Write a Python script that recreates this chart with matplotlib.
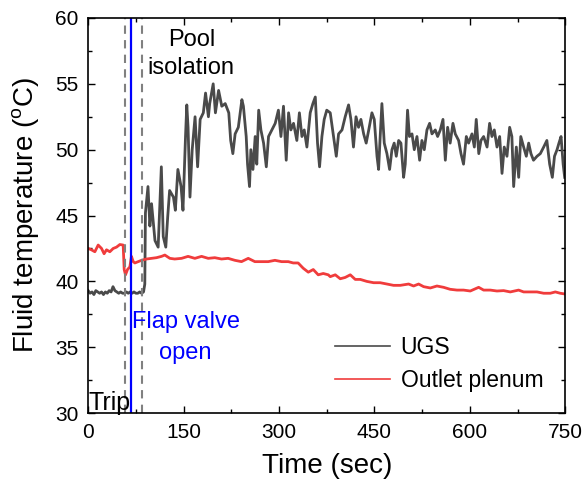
import matplotlib
matplotlib.use("Agg")
import matplotlib.pyplot as plt
from matplotlib.ticker import MultipleLocator

plt.rcParams['font.family'] = ['Liberation Sans', 'DejaVu Sans']
plt.rcParams['mathtext.fontset'] = 'custom'
plt.rcParams['mathtext.rm'] = 'Liberation Sans'

# UGS temperature
ugs_t = [0, 3, 6, 9, 12, 15, 18, 21, 24, 27, 30, 33, 36, 39, 42, 45, 48, 51, 54, 57,
         60, 63, 66, 69, 72, 75, 78, 81, 84, 87, 89, 90, 94, 97, 99.6, 105, 110, 115,
         118, 122, 125, 128, 134, 137, 141, 146, 149, 153, 155, 157, 160, 163.5, 168,
         172, 176, 181, 184.5, 189, 191, 196.5, 200, 205, 210, 215.4, 221, 224, 227.4,
         231, 236, 241.6, 244, 248.4, 250.5, 253.6, 255.7, 259, 262.5, 265, 268, 271.5,
         275.7, 280, 283.5, 288.8, 294, 299, 303, 307, 311.3, 315, 318.6, 322.8, 328,
         332, 336, 339.6, 343.8, 349, 353.2, 357, 360.5, 363.7, 367.4, 371, 375, 380.5,
         385.7, 390, 393.6, 399, 404, 409.3, 413, 417, 421, 425, 428.7, 433, 437, 441,
         446, 449.7, 454, 456.5, 459, 461.7, 465.4, 469.6, 473.8, 477.5, 481, 484.3,
         488, 491.6, 495.8, 498.4, 502, 505, 509, 512.6, 516.8, 521, 524.6, 528.3,
         532.5, 536.7, 540.4, 545.6, 549.3, 553.5, 557.7, 561.4, 565, 569, 573.4, 577,
         582.3, 586, 590, 594.4, 598, 603.3, 607, 610, 614, 617.4, 621.6, 627, 631,
         634.7, 638.4, 642.6, 646.8, 650.5, 654, 658.3, 662.5, 666, 668.8, 673, 676.7,
         680, 684.5, 688.7, 692.4, 696, 700, 705.5, 710.7, 716, 721, 725.4, 729.6, 733,
         737, 740, 743.3, 746.6, 749]
ugs_T = [39.3, 39.1, 39.2, 39.0, 39.3, 39.2, 39.1, 39.2, 39.0, 39.2, 39.1, 39.3, 39.2,
         39.6, 39.3, 39.2, 39.1, 39.2, 39.1, 39.1, 39.2, 39.1, 39.2, 39.1, 39.2, 39.1,
         39.1, 39.2, 39.1, 39.2, 39.8, 45.2, 47.2, 44.2, 45.9, 43.1, 42.6, 48.7, 43.4,
         42.6, 44.9, 46.9, 46.4, 45.4, 48.5, 47.2, 45.4, 51.0, 53.4, 51.7, 46.4, 50.0,
         52.5, 48.7, 52.3, 52.8, 54.3, 52.5, 53.5, 55.0, 52.8, 54.5, 53.3, 53.5, 52.8,
         50.7, 49.7, 51.2, 51.7, 53.8, 53.3, 51.0, 48.9, 47.2, 50.0, 48.5, 51.0, 48.9,
         53.0, 51.5, 50.5, 48.7, 51.0, 51.5, 52.0, 53.0, 51.0, 53.3, 49.2, 52.8, 51.5,
         52.0, 50.7, 52.8, 51.0, 51.5, 50.2, 52.8, 53.5, 54.0, 50.5, 48.7, 51.0, 52.3,
         53.0, 52.8, 51.0, 49.5, 51.2, 51.5, 52.5, 53.4, 52.3, 50.2, 52.5, 51.7, 52.3,
         51.2, 50.5, 51.5, 52.8, 52.3, 49.5, 48.5, 51.0, 53.5, 50.5, 49.7, 48.5, 50.0,
         50.5, 49.5, 50.7, 50.5, 47.9, 48.9, 53.0, 51.0, 51.2, 50.0, 51.0, 49.2, 50.7,
         50.0, 51.5, 52.0, 51.2, 51.5, 51.0, 51.5, 52.3, 49.2, 51.7, 50.5, 52.0, 51.2,
         50.7, 49.7, 48.9, 51.0, 50.5, 51.2, 50.2, 52.3, 49.7, 50.7, 51.0, 50.2, 52.0,
         51.0, 51.5, 50.2, 51.0, 48.2, 50.2, 49.5, 51.7, 51.0, 47.2, 50.2, 47.9, 51.0,
         50.2, 49.5, 50.5, 49.7, 49.2, 49.5, 49.7, 50.2, 50.7, 48.9, 47.9, 49.5, 50.0,
         50.5, 51.0, 48.9, 47.9]

# Outlet plenum temperature
out_t = [0, 5, 10.5, 15.7, 21, 25, 28.8, 34, 39.3, 44.5, 49.8, 55, 56.6, 58.7, 61.8,
         65.5, 68, 70.8, 73.4, 78.6, 83.9, 91.7, 99.6, 107.4, 115.3, 120.5, 128.4, 136,
         146.8, 157, 167.7, 178.2, 188.7, 199, 209.6, 220, 230.6, 241, 251.6, 262, 272.5,
         283, 293.5, 304, 314.5, 322.3, 330, 338, 346, 353.8, 361.6, 369.5, 377.4, 380.5,
         388.4, 396.2, 404, 412, 419.8, 427.7, 438, 448.7, 459, 469.6, 480, 490.6, 503.7,
         511.5, 519.4, 527.3, 537.8, 548.2, 558.7, 569, 579.7, 590, 600.6, 613.8, 621.6,
         632, 642.6, 653, 663.5, 676.6, 684.5, 695, 705.5, 716, 726.4, 734.3, 742, 750]
out_T = [42.5, 42.4, 42.25, 42.76, 42.5, 42.1, 42.4, 42.25, 42.5, 42.6, 42.8, 42.76,
         40.9, 40.5, 40.9, 41.1, 41.9, 41.5, 41.4, 41.5, 41.6, 41.7, 41.75, 41.8, 41.9,
         42.0, 41.75, 41.7, 41.75, 41.9, 41.75, 41.9, 41.75, 41.8, 41.7, 41.75, 41.6, 41.5,
         41.75, 41.5, 41.5, 41.5, 41.6, 41.5, 41.5, 41.4, 41.4, 41.0, 40.7, 40.9, 40.5,
         40.6, 40.5, 40.36, 40.5, 40.2, 40.3, 40.5, 40.15, 40.15, 40.0, 39.9, 39.9, 39.8,
         39.7, 39.7, 39.8, 39.65, 39.8, 39.6, 39.5, 39.65, 39.55, 39.4, 39.34, 39.34,
         39.27, 39.55, 39.34, 39.34, 39.27, 39.3, 39.2, 39.34, 39.2, 39.2, 39.2, 39.1,
         39.1, 39.2, 39.1, 39.04]

# event times (sec)
trip_time = 58
flap_time = 67
pool_time = 84

fig = plt.figure(figsize=(5.84, 4.86), dpi=100)
ax = fig.add_axes([0.151, 0.150, 0.817, 0.813])

ax.plot(ugs_t, ugs_T, color='#4a4a4a', lw=2.0, label='UGS')
ax.plot(out_t, out_T, color='#f03c3c', lw=2.0, label='Outlet plenum')
ax.axvline(trip_time, color='#808080', lw=1.5, ls=(0, (4, 3)))
ax.axvline(pool_time, color='#808080', lw=1.5, ls=(0, (4, 3)))
ax.axvline(flap_time, color='#0000ff', lw=1.6)

ax.text(163, 58.3, 'Pool', fontsize=17, ha='center', va='center')
ax.text(162, 56.2, 'isolation', fontsize=17, ha='center', va='center')
ax.text(153, 36.9, 'Flap valve', fontsize=17, color='#0000ff', ha='center', va='center')
ax.text(153, 34.6, 'open', fontsize=17, color='#0000ff', ha='center', va='center')
ax.text(1, 30.75, 'Trip', fontsize=18, ha='left', va='center')

ax.set_xlim(0, 750)
ax.set_ylim(30, 60)
ax.xaxis.set_major_locator(MultipleLocator(150))
ax.xaxis.set_minor_locator(MultipleLocator(75))
ax.yaxis.set_major_locator(MultipleLocator(5))
ax.yaxis.set_minor_locator(MultipleLocator(2.5))
ax.tick_params(which='both', direction='in', top=True, right=True, labelsize=15)
ax.tick_params(which='major', length=5, width=1, pad=7)
ax.tick_params(which='minor', length=3, width=1)
for s in ax.spines.values():
    s.set_linewidth(1.2)

ax.set_xlabel('Time (sec)', fontsize=20, labelpad=8)
ax.set_ylabel(r'Fluid temperature ($\mathregular{^{o}}$C)', fontsize=20, labelpad=10)

leg = ax.legend(loc='lower right', bbox_to_anchor=(0.997, 0.0), frameon=False,
                fontsize=16.5, handlelength=2.4, handletextpad=0.45, labelspacing=0.45)
for h in leg.get_lines():
    h.set_linewidth(1.2)

fig.savefig('out.png', dpi=100)
